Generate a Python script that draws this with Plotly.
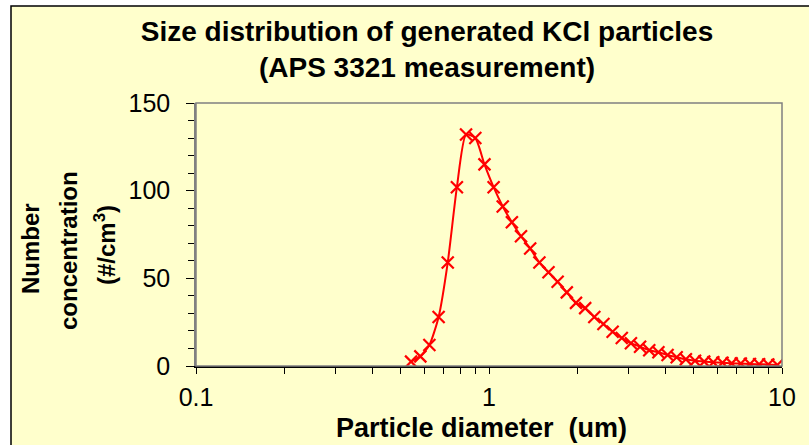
import plotly.graph_objects as go

diameter_um = [0.542, 0.583, 0.626, 0.673, 0.723, 0.777, 0.835, 0.898, 0.965, 1.037,
               1.114, 1.197, 1.286, 1.382, 1.486, 1.596, 1.715, 1.843, 1.981, 2.129,
               2.288, 2.458, 2.642, 2.839, 3.051, 3.278, 3.523, 3.786, 4.068, 4.371,
               4.698, 5.048, 5.425, 5.829, 6.264, 6.732, 7.234, 7.774, 8.354, 8.977, 9.647]
concentration = [2.5, 5.5, 12, 28, 59, 102, 132, 130, 115, 102,
                 91, 82, 74, 67, 59, 53.5, 48, 42, 36, 33,
                 28, 24, 19.5, 16, 13, 11, 9, 7.8, 6.3, 5.0,
                 3.8, 3.0, 2.5, 2.1, 1.9, 1.5, 1.4, 1.1, 1.0, 0.9, 0.6]

x_major = [0.1, 1, 10]
x_minor = [0.2, 0.3, 0.4, 0.5, 0.6, 0.7, 0.8, 0.9, 2, 3, 4, 5, 6, 7, 8, 9]
x_ticklabels = ["0.1", "1", "10"]
y_ticks = [0, 50, 100, 150]

W, H = 809, 445
L, R, T, B = 196, 782, 103, 366
pw, ph = R - L, B - T

def px_x(p):
    return (p - L) / pw

def px_y(p):
    return (B - p) / ph

tickvals = sorted(x_major + x_minor)
ticktext = [x_ticklabels[x_major.index(v)] if v in x_major else "" for v in tickvals]

fig = go.Figure()
fig.add_trace(go.Scatter(
    x=diameter_um, y=concentration, mode="lines+markers",
    line=dict(color="#FF0000", width=2, shape="spline", smoothing=0.6),
    marker=dict(symbol="x-thin", size=12, line=dict(color="#FF0000", width=2.2)),
    cliponaxis=True, showlegend=False,
))

fig.update_layout(
    width=W, height=H,
    margin=dict(l=L, r=W - R, t=T, b=H - B, pad=0),
    paper_bgcolor="white", plot_bgcolor="white",
    font=dict(family="Liberation Sans, Arial", color="black"),
    title=dict(
        text="<b>Size distribution of generated KCl particles<br>(APS 3321 measurement)</b>",
        font=dict(size=28, family="Liberation Sans, Arial", color="black"),
        x=427 / W, xanchor="center", xref="container",
        y=1 - 41 / H, yanchor="middle", yref="container",
    ),
    xaxis=dict(
        type="log", range=[-1, 1], tickvals=tickvals, ticktext=ticktext,
        ticks="outside", ticklen=6, tickcolor="black", tickwidth=1,
        showline=True, linecolor="black", linewidth=1.5,
        showgrid=False, zeroline=False,
        tickfont=dict(size=25), ticklabelstandoff=2,
    ),
    yaxis=dict(
        range=[0, 150], tickvals=y_ticks,
        ticks="outside", ticklen=8, tickcolor="black", tickwidth=1,
        minor=dict(dtick=10, ticks="outside", ticklen=6, tickcolor="black"),
        showline=True, linecolor="#808080", linewidth=1.5,
        showgrid=False, zeroline=False,
        tickfont=dict(size=25), ticklabelstandoff=11,
    ),
    shapes=[
        dict(type="rect", xref="paper", yref="paper",
             x0=px_x(11), x1=px_x(W + 20), y0=px_y(H + 20), y1=px_y(6),
             fillcolor="#FFFFCC", line=dict(color="black", width=1.5), layer="below"),
        dict(type="rect", xref="paper", yref="paper", x0=0, x1=1, y0=0, y1=1,
             line=dict(color="#808080", width=1.5), layer="above"),
    ],
    annotations=[
        dict(text="<b>Particle diameter  (um)</b>", xref="paper", yref="paper",
             x=px_x(481), y=px_y(428), xanchor="center", yanchor="middle",
             showarrow=False, font=dict(size=27)),
        dict(text="<b>Number</b>", xref="paper", yref="paper",
             x=px_x(30), y=px_y(249), xanchor="center", yanchor="middle",
             textangle=-90, showarrow=False, font=dict(size=24)),
        dict(text="<b>concentration</b>", xref="paper", yref="paper",
             x=px_x(69), y=px_y(251), xanchor="center", yanchor="middle",
             textangle=-90, showarrow=False, font=dict(size=24)),
        dict(text="<b>(#/cm<sup>3</sup>)</b>", xref="paper", yref="paper",
             x=px_x(105), y=px_y(245), xanchor="center", yanchor="middle",
             textangle=-90, showarrow=False, font=dict(size=24)),
    ],
)

fig.write_html("out.html")
